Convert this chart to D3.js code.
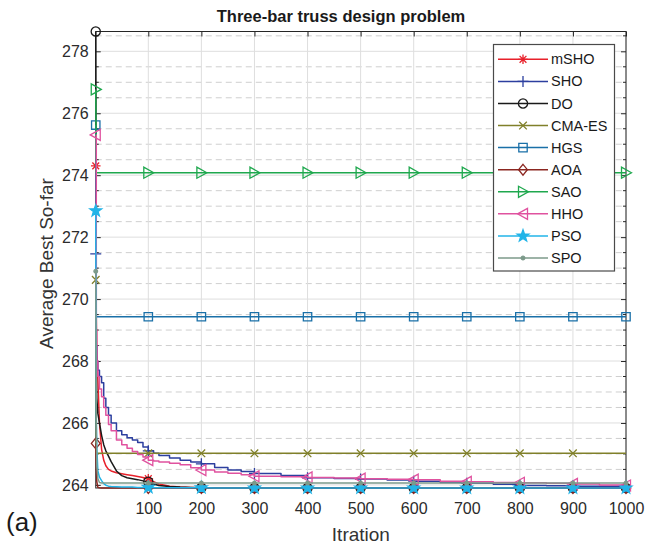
<!DOCTYPE html>
<html>
<head>
<meta charset="utf-8">
<script src="https://cdn.jsdelivr.net/npm/d3@7"></script>
<style>
  body { margin: 0; background: #fff; }
  svg { display: block; }
  text { font-family: "Liberation Sans", Arial, Helvetica, sans-serif; }
</style>
</head>
<body>
<svg id="chart" width="648" height="545"></svg>
<script>
// Iteration knots at which each convergence curve is sampled
const iterations = [1, 2, 3, 5, 8, 12, 16, 20, 25, 30, 40, 50, 60, 70, 80, 90, 100, 110, 120, 140,
  160, 180, 200, 225, 250, 275, 300, 350, 400, 450, 500, 550, 600, 650, 700, 750, 800, 850, 900, 950, 1000];

// Average best-so-far objective value of each algorithm
const mSHO = [274.30, 269.5, 268.2, 267.4, 266.0, 265.15, 264.8, 264.62, 264.5, 264.45, 264.39, 264.36, 264.33, 264.30, 264.27, 264.24, 264.20, 264.10, 264.03, 263.96,
  263.93, 263.92, 263.91, 263.90, 263.90, 263.90, 263.90, 263.90, 263.90, 263.90, 263.90, 263.90, 263.90, 263.90, 263.90, 263.90, 263.90, 263.90, 263.90, 263.90, 263.90];
const SHO = [271.46, 268.5, 268.0, 267.7, 267.5, 267.3, 266.8, 266.5, 266.25, 266.0, 265.75, 265.62, 265.52, 265.45, 265.37, 265.22, 265.1, 265.02, 264.95, 264.87,
  264.8, 264.74, 264.68, 264.56, 264.48, 264.43, 264.37, 264.3, 264.23, 264.21, 264.19, 264.16, 264.12, 264.08, 264.05, 264.02, 263.98, 263.97, 263.96, 263.96, 263.95];
const DO = [278.64, 267.6, 266.8, 266.3, 266.0, 265.6, 265.3, 265.1, 264.93, 264.75, 264.45, 264.3, 264.23, 264.2, 264.17, 264.13, 264.1, 264.03, 263.98, 263.95,
  263.93, 263.92, 263.91, 263.90, 263.90, 263.90, 263.90, 263.90, 263.90, 263.90, 263.90, 263.90, 263.90, 263.90, 263.90, 263.90, 263.90, 263.90, 263.90, 263.90, 263.90];
const CMAES = [270.62, 265.02, 265.02, 265.02, 265.02, 265.02, 265.02, 265.02, 265.02, 265.02, 265.02, 265.02, 265.02, 265.02, 265.02, 265.02, 265.02, 265.02, 265.02, 265.02,
  265.02, 265.02, 265.02, 265.02, 265.02, 265.02, 265.02, 265.02, 265.02, 265.02, 265.02, 265.02, 265.02, 265.02, 265.02, 265.02, 265.02, 265.02, 265.02, 265.02, 265.02];
const HGS = [275.62, 269.43, 269.43, 269.43, 269.43, 269.43, 269.43, 269.43, 269.43, 269.43, 269.43, 269.43, 269.43, 269.43, 269.43, 269.43, 269.43, 269.43, 269.43, 269.43,
  269.43, 269.43, 269.43, 269.43, 269.43, 269.43, 269.43, 269.43, 269.43, 269.43, 269.43, 269.43, 269.43, 269.43, 269.43, 269.43, 269.43, 269.43, 269.43, 269.43, 269.43];
const AOA = [265.34, 264.6, 264.1, 263.92, 263.91, 263.90, 263.90, 263.90, 263.90, 263.90, 263.90, 263.90, 263.90, 263.90, 263.90, 263.90, 263.90, 263.90, 263.90, 263.90,
  263.90, 263.90, 263.90, 263.90, 263.90, 263.90, 263.90, 263.90, 263.90, 263.90, 263.90, 263.90, 263.90, 263.90, 263.90, 263.90, 263.90, 263.90, 263.90, 263.90, 263.90];
const SAO = [276.77, 274.08, 274.08, 274.08, 274.08, 274.08, 274.08, 274.08, 274.08, 274.08, 274.08, 274.08, 274.08, 274.08, 274.08, 274.08, 274.08, 274.08, 274.08, 274.08,
  274.08, 274.08, 274.08, 274.08, 274.08, 274.08, 274.08, 274.08, 274.08, 274.08, 274.08, 274.08, 274.08, 274.08, 274.08, 274.08, 274.08, 274.08, 274.08, 274.08, 274.08];
const HHO = [275.30, 269.0, 268.0, 267.5, 267.1, 266.85, 266.5, 266.25, 265.95, 265.75, 265.45, 265.3, 265.18, 265.08, 264.98, 264.9, 264.8, 264.77, 264.74, 264.7,
  264.65, 264.55, 264.48, 264.42, 264.38, 264.33, 264.28, 264.26, 264.24, 264.22, 264.2, 264.18, 264.17, 264.12, 264.1, 264.08, 264.07, 264.05, 264.03, 264.0, 263.98];
const PSO = [272.85, 266.2, 265.2, 264.45, 264.25, 264.14, 264.04, 263.99, 263.96, 263.95, 263.94, 263.93, 263.93, 263.93, 263.92, 263.92, 263.92, 263.91, 263.91, 263.91,
  263.91, 263.91, 263.91, 263.90, 263.90, 263.90, 263.90, 263.90, 263.90, 263.90, 263.90, 263.90, 263.90, 263.90, 263.90, 263.90, 263.90, 263.90, 263.90, 263.90, 263.90];
const SPO = [270.9, 266.0, 264.6, 264.2, 264.08, 264.06, 264.06, 264.06, 264.06, 264.06, 264.06, 264.06, 264.06, 264.06, 264.06, 264.06, 264.06, 264.06, 264.06, 264.06,
  264.06, 264.06, 264.06, 264.06, 264.06, 264.06, 264.06, 264.06, 264.06, 264.06, 264.06, 264.06, 264.06, 264.06, 264.06, 264.06, 264.06, 264.06, 264.06, 264.06, 264.06];

const seriesNames = ["mSHO", "SHO", "DO", "CMA-ES", "HGS", "AOA", "SAO", "HHO", "PSO", "SPO"];
const seriesValues = [mSHO, SHO, DO, CMAES, HGS, AOA, SAO, HHO, PSO, SPO];
const seriesColors = ["#e8212b", "#2c3f9f", "#1a1a1a", "#80802a", "#1a70a8", "#8b2620", "#1fa84e", "#e0529f", "#22b4e8", "#7c9a8a"];
const seriesMarkers = ["asterisk", "plus", "circle", "cross", "square", "diamond", "triRight", "triLeft", "pentagram", "dot"];
const seriesSteps = [false, true, false, false, false, false, false, true, false, false];

// Iterations that carry a marker
const markerIterations = [1, 100, 200, 300, 400, 500, 600, 700, 800, 900, 1000];
const cmaesMarkerIterations = [1, 100, 200, 300, 400, 500, 600, 700, 800, 900];

const xTicks = [100, 200, 300, 400, 500, 600, 700, 800, 900, 1000];
const yTicks = [264, 266, 268, 270, 272, 274, 276, 278];
const yMinorTicks = d3.range(264, 278.51, 0.5).filter(v => Math.abs(v / 2 - Math.round(v / 2)) > 1e-6);

const svg = d3.select("#chart");
const plot = { left: 95.75, right: 626, top: 31.5, bottom: 488 };

const allValues = seriesValues.flat();
const x = d3.scaleLinear().domain([1, 1000]).range([plot.left, plot.right]);
const y = d3.scaleLinear().domain([d3.min(allValues), d3.max(allValues)]).range([plot.bottom, plot.top]);

// Grid
const grid = svg.append("g");
grid.selectAll("line.minor").data(yMinorTicks).join("line")
  .attr("x1", plot.left).attr("x2", plot.right)
  .attr("y1", d => y(d)).attr("y2", d => y(d))
  .attr("stroke", "#cfcfcf").attr("stroke-width", 1).attr("stroke-dasharray", "6,4");
grid.selectAll("line.hmaj").data(yTicks).join("line")
  .attr("x1", plot.left).attr("x2", plot.right)
  .attr("y1", d => y(d)).attr("y2", d => y(d))
  .attr("stroke", "#dedede").attr("stroke-width", 1);
grid.selectAll("line.vmaj").data(xTicks).join("line")
  .attr("y1", plot.top).attr("y2", plot.bottom)
  .attr("x1", d => x(d)).attr("x2", d => x(d))
  .attr("stroke", "#dedede").attr("stroke-width", 1);

// Axes (ticks pointing inward)
const axisColor = "#262626";
const xAxis = svg.append("g").attr("transform", `translate(0,${plot.bottom})`)
  .call(d3.axisBottom(x).tickValues(xTicks).tickFormat(d3.format("d")).tickSize(-5).tickPadding(15).tickSizeOuter(0));
const xAxisTop = svg.append("g").attr("transform", `translate(0,${plot.top})`)
  .call(d3.axisTop(x).tickValues(xTicks).tickSize(-5).tickFormat("").tickSizeOuter(0));
const yAxis = svg.append("g").attr("transform", `translate(${plot.left},0)`)
  .call(d3.axisLeft(y).tickValues(yTicks).tickFormat(d3.format("d")).tickSize(-5).tickPadding(7).tickSizeOuter(0));
const yAxisRight = svg.append("g").attr("transform", `translate(${plot.right},0)`)
  .call(d3.axisRight(y).tickValues(yTicks).tickSize(-5).tickFormat("").tickSizeOuter(0));
[xAxis, xAxisTop, yAxis, yAxisRight].forEach(g => {
  g.select(".domain").remove();
  g.selectAll(".tick line").attr("stroke", axisColor);
  g.selectAll(".tick text").attr("fill", "#2b2b2b").style("font-size", "16px")
    .style("font-family", '"Liberation Sans", Arial, sans-serif');
});
// Minor y ticks on both sides
svg.append("g").selectAll("line").data(yMinorTicks).join("line")
  .attr("x1", plot.left).attr("x2", plot.left + 3)
  .attr("y1", d => y(d)).attr("y2", d => y(d)).attr("stroke", axisColor);
svg.append("g").selectAll("line").data(yMinorTicks).join("line")
  .attr("x1", plot.right - 3).attr("x2", plot.right)
  .attr("y1", d => y(d)).attr("y2", d => y(d)).attr("stroke", axisColor);

// Axes box
svg.append("rect")
  .attr("x", plot.left).attr("y", plot.top)
  .attr("width", plot.right - plot.left).attr("height", plot.bottom - plot.top)
  .attr("fill", "none").attr("stroke", axisColor).attr("stroke-width", 1);

// Marker shapes
function markerPath(type) {
  switch (type) {
    case "asterisk": return "M-4.8,0H4.8M0,-4.8V4.8M-3.4,-3.4L3.4,3.4M-3.4,3.4L3.4,-3.4";
    case "plus": return "M-5.5,0H5.5M0,-5.5V5.5";
    case "circle": return "M4.6,0A4.6,4.6 0 1,1 -4.6,0A4.6,4.6 0 1,1 4.6,0Z";
    case "cross": return "M-3.8,-3.8L3.8,3.8M-3.8,3.8L3.8,-3.8";
    case "square": return "M-4.2,-4.2H4.2V4.2H-4.2Z";
    case "diamond": return "M0,-5.4L4.4,0L0,5.4L-4.4,0Z";
    case "triRight": return "M5.5,0L-4.5,-5.5L-4.5,5.5Z";
    case "triLeft": return "M-5.5,0L4.5,-5.5L4.5,5.5Z";
    case "pentagram": {
      const pts = d3.range(10).map(i => {
        const r = i % 2 === 0 ? 6.2 : 2.5;
        const a = -Math.PI / 2 + i * Math.PI / 5;
        return [r * Math.cos(a), r * Math.sin(a)];
      });
      return "M" + pts.map(p => p.join(",")).join("L") + "Z";
    }
    case "dot": return "M1.8,0A1.8,1.8 0 1,1 -1.8,0A1.8,1.8 0 1,1 1.8,0Z";
  }
}
const filledMarkers = new Set(["pentagram", "dot"]);

function drawMarker(g, type, color, cx, cy) {
  g.append("path")
    .attr("d", markerPath(type))
    .attr("transform", `translate(${cx},${cy})`)
    .attr("fill", filledMarkers.has(type) ? color : "none")
    .attr("stroke", color)
    .attr("stroke-width", 1.3)
    .attr("stroke-linejoin", "miter");
}

// Convergence curves, each followed by its markers
const series = svg.append("g");
seriesNames.forEach((name, si) => {
  const vals = seriesValues[si];
  const pts = iterations.map((it, i) => [it, vals[i]]);
  const line = d3.line()
    .x(d => x(d[0])).y(d => y(d[1]))
    .curve(seriesSteps[si] ? d3.curveStepAfter : d3.curveLinear);
  const g = series.append("g");
  g.append("path").datum(pts)
    .attr("d", line)
    .attr("fill", "none")
    .attr("stroke", seriesColors[si])
    .attr("stroke-width", 1.5)
    .attr("stroke-linejoin", "round");
  const mIters = name === "CMA-ES" ? cmaesMarkerIterations : markerIterations;
  mIters.forEach(it => {
    const idx = iterations.indexOf(it);
    drawMarker(g, seriesMarkers[si], seriesColors[si], x(it), y(vals[idx]));
  });
});

// Legend
const legend = { x0: 493.5, y0: 44.5, x1: 614.5, y1: 271, rowY: 59.3, rowStep: 22.08 };
svg.append("rect")
  .attr("x", legend.x0).attr("y", legend.y0)
  .attr("width", legend.x1 - legend.x0).attr("height", legend.y1 - legend.y0)
  .attr("fill", "#fff").attr("stroke", "#4a4a4a").attr("stroke-width", 1.2);
seriesNames.forEach((name, si) => {
  const ry = legend.rowY + si * legend.rowStep;
  const g = svg.append("g");
  g.append("line").attr("x1", 498).attr("x2", 548).attr("y1", ry).attr("y2", ry)
    .attr("stroke", seriesColors[si]).attr("stroke-width", 1.5);
  drawMarker(g, seriesMarkers[si], seriesColors[si], 523, ry);
  g.append("text").attr("x", 551).attr("y", ry).attr("dy", "0.35em")
    .attr("fill", "#1a1a1a").style("font-size", "14.5px").text(name);
});

// Title and axis labels
svg.append("text").attr("x", 341).attr("y", 22)
  .attr("text-anchor", "middle").attr("fill", "#1a1a1a")
  .style("font-size", "16.5px").style("font-weight", "bold")
  .text("Three-bar truss design problem");
svg.append("text").attr("x", (plot.left + plot.right) / 2).attr("y", 541)
  .attr("text-anchor", "middle").attr("fill", "#333")
  .style("font-size", "19px").text("Itration");
svg.append("text")
  .attr("transform", "translate(53,263.5) rotate(-90)")
  .attr("text-anchor", "middle").attr("fill", "#333")
  .style("font-size", "19px").text("Average Best So-far");
svg.append("text").attr("x", 6).attr("y", 531)
  .attr("fill", "#1a1a1a").style("font-size", "26px").text("(a)");
</script>
</body>
</html>
